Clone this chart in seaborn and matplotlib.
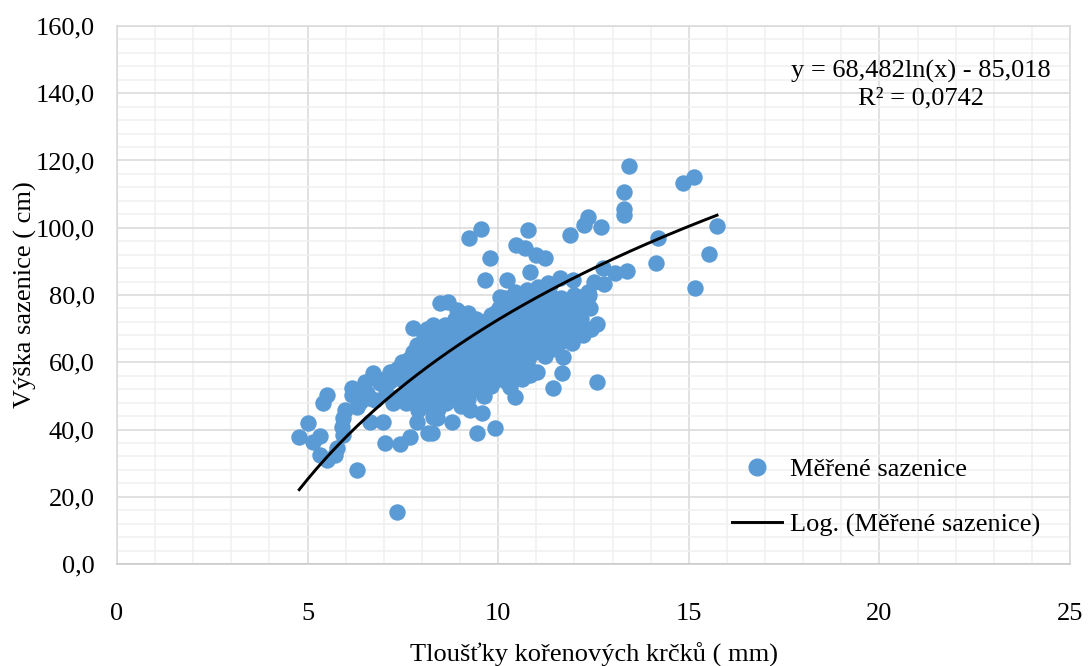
import numpy as np
import pandas as pd
import matplotlib
matplotlib.use("Agg")
import matplotlib.pyplot as plt
from matplotlib.ticker import MultipleLocator, FuncFormatter
from matplotlib.lines import Line2D
import seaborn as sns

# ---------------- data ----------------
thickness_mm = [
    # left / lower edge
    4.78, 5.02, 5.14, 5.33, 5.33, 5.50, 5.72, 5.76, 5.40, 5.50, 5.93, 5.89, 5.93, 5.98,
    6.29, 6.16, 6.16, 6.45, 6.37, 6.72, 6.77, 7.16, 7.47, 7.86, 6.29, 7.35, 7.03, 7.42,
    7.69, 6.98, 6.64, 7.86, 7.90, 8.16, 8.29, 8.26, 8.39, 8.78, 7.37, 7.73, 6.90, 6.55,
    7.33, 7.77,
    # middle lower edge
    9.44, 9.92, 9.57, 9.26, 10.44, 10.30, 10.83, 11.44, 11.67, 11.70, 11.49, 11.10,
    11.88, 12.58, 12.60,
    # upper edge
    9.23, 9.54, 9.78, 9.65, 10.22, 10.48, 10.70, 10.78, 11.00, 11.23, 10.83, 8.47, 8.68,
    8.29, 8.91, 9.21, 9.92, 10.05, 10.48, 10.75, 11.05, 11.31, 11.62, 11.97, 12.50, 12.15,
    12.36, 12.15, 11.75, 12.23, 12.00, 11.93, 12.36, 11.36,
    # right
    13.43, 14.85, 15.14, 13.30, 13.30, 13.30, 12.35, 12.25, 12.70, 11.88, 15.74, 14.19,
    15.53, 14.13, 13.38, 13.06, 12.75, 12.78, 15.15,
    # core
    7.58, 7.62, 7.55, 7.66,
    7.82, 7.78, 7.84, 7.76, 7.81,
    8.02, 7.98, 8.05, 7.97, 8.03, 8.06,
    8.18, 8.23, 8.16, 8.21, 8.25, 8.14,
    8.42, 8.38, 8.44, 8.36, 8.41, 8.45, 8.37,
    8.62, 8.57, 8.64, 8.59, 8.66, 8.55, 8.61,
    8.81, 8.77, 8.84, 8.79, 8.83, 8.76, 8.86,
    9.02, 8.97, 9.04, 8.99, 9.05, 8.96, 9.03, 9.07,
    9.22, 9.17, 9.24, 9.19, 9.25, 9.16, 9.21,
    9.42, 9.37, 9.44, 9.39, 9.45, 9.36, 9.41,
    9.62, 9.57, 9.64, 9.59, 9.65, 9.56, 9.61,
    9.82, 9.77, 9.84, 9.79, 9.85, 9.76, 9.81,
    10.02, 9.97, 10.04, 9.99, 10.05, 9.96, 10.03,
    10.22, 10.17, 10.24, 10.19, 10.25, 10.16, 10.21, 10.18,
    10.42, 10.37, 10.44, 10.39, 10.45, 10.36, 10.41, 10.43,
    10.62, 10.57, 10.64, 10.59, 10.65, 10.56, 10.61,
    10.82, 10.77, 10.84, 10.79, 10.85, 10.76, 10.81, 10.83,
    11.02, 10.97, 11.04, 10.99, 11.05, 10.96, 11.03,
    11.22, 11.17, 11.24, 11.19, 11.25, 11.16,
    11.42, 11.37, 11.44, 11.39, 11.45, 11.36,
    11.62, 11.57, 11.64, 11.59, 11.65,
    11.82, 11.77, 11.84, 11.79,
    12.02, 11.97, 12.04, 11.99,
    12.22, 12.17, 12.24,
    12.42, 12.38, 12.44,
    6.50, 6.60, 6.85, 7.05, 7.15, 7.25, 7.35, 7.45, 7.70, 7.65,
]

height_cm = [
    # left / lower edge
    37.9, 41.9, 36.4, 38.1, 32.4, 31.0, 32.4, 34.5, 47.9, 50.3, 38.4, 40.8, 43.4, 45.8,
    46.8, 52.3, 50.3, 51.7, 48.3, 56.8, 48.8, 57.2, 60.2, 65.1, 28.0, 15.6, 36.1, 35.7,
    37.9, 42.3, 42.3, 42.3, 45.8, 39.0, 43.8, 39.0, 43.4, 42.3, 49.8, 52.7, 53.8, 50.8,
    48.8, 70.2,
    # middle lower edge
    39.0, 40.4, 44.9, 45.8, 49.8, 52.7, 56.2, 52.3, 56.8, 61.7, 67.2, 64.2,
    67.5, 54.2, 71.4,
    # upper edge
    97.0, 99.5, 91.0, 84.5, 84.5, 94.9, 94.0, 99.3, 91.9, 91.0, 86.7, 77.6, 77.9,
    71.1, 75.5, 74.6, 74.6, 79.4, 79.4, 81.5, 82.4, 83.5, 85.0, 84.5, 83.9, 79.4,
    79.4, 77.0, 72.5, 70.2, 67.5, 65.7, 81.0, 83.0,
    # right
    118.4, 113.3, 115.1, 110.5, 105.6, 103.8, 103.3, 100.8, 100.3, 97.8, 100.5, 97.0,
    92.2, 89.5, 87.2, 86.5, 88.0, 83.3, 82.0,
    # core
    48, 53, 57, 61,
    51, 55, 59, 63, 49.5,
    47, 52, 56, 60, 64, 68,
    50, 54, 58, 62, 66, 70,
    46, 49, 53, 57, 61, 65, 69,
    48, 52, 55, 59, 63, 67, 71,
    50, 54, 58, 61, 65, 69, 73,
    47, 51, 55, 59, 63, 67, 71, 74,
    49, 53, 57, 61, 65, 69, 72,
    52, 55, 59, 63, 67, 70, 73,
    50, 54, 58, 62, 65, 68, 72,
    53, 57, 61, 64, 67, 70, 74,
    55, 59, 62, 66, 69, 72, 76,
    54, 58, 61, 65, 68, 71, 75, 79,
    56, 60, 63, 67, 70, 73, 77, 81,
    55, 59, 62, 66, 69, 72, 76,
    58, 61, 65, 68, 71, 74, 78, 81,
    57, 63, 67, 70, 73, 76, 80,
    62, 66, 69, 72, 75, 78,
    64, 68, 71, 74, 77, 80,
    66, 70, 73, 76, 79,
    69, 72, 75, 78,
    71, 74, 77, 80,
    68, 73, 78,
    76, 80, 70,
    54, 49.5, 55, 51, 54.5, 48, 58, 55, 57.5, 50,
]

# logarithmic trendline coefficients (as shown on the chart)
trend_a = 68.482
trend_b = -85.018
equation_text = "y = 68,482ln(x) - 85,018\nR² = 0,0742"

series_label = "Měřené sazenice"
trend_label = "Log. (Měřené sazenice)"
x_label = "Tloušťky kořenových krčků ( mm)"
y_label = "Výška sazenice ( cm)"

# ---------------- plot ----------------
plt.rcParams['font.family'] = ['Liberation Serif', 'DejaVu Serif']
FS = 19
BLUE = "#5B9BD5"

df = pd.DataFrame({"x": thickness_mm, "y": height_cm})

fig = plt.figure(figsize=(10.88, 6.66), dpi=100)
ax = fig.add_axes([117 / 1088, 102 / 666, 953 / 1088, 538 / 666])

sns.scatterplot(data=df, x="x", y="y", ax=ax, color=BLUE, s=140,
                linewidth=0, alpha=1, zorder=3, legend=False)

tx = np.linspace(min(thickness_mm), max(thickness_mm), 200)
trend_df = pd.DataFrame({"x": tx, "y": trend_a * np.log(tx) + trend_b})
sns.lineplot(data=trend_df, x="x", y="y", ax=ax, color="black", lw=2.1,
             zorder=4, legend=False)

ax.set_xlim(0, 25)
ax.set_ylim(0, 160)
ax.xaxis.set_major_locator(MultipleLocator(5))
ax.xaxis.set_minor_locator(MultipleLocator(1))
ax.yaxis.set_major_locator(MultipleLocator(20))
ax.yaxis.set_minor_locator(MultipleLocator(4))
ax.yaxis.set_major_formatter(FuncFormatter(lambda v, p: f"{v:.1f}".replace(".", ",")))
ax.xaxis.set_major_formatter(FuncFormatter(lambda v, p: f"{v:.0f}"))

ax.grid(which="minor", color="#f0f0f0", lw=1.1, zorder=0)
ax.grid(which="major", color="#d9d9d9", lw=1.1, zorder=1)
ax.set_axisbelow(True)
for s in ax.spines.values():
    s.set_color("#d9d9d9")
    s.set_linewidth(1.1)
ax.spines["bottom"].set_color("#c8c8c8")

ax.tick_params(which="both", length=0)
ax.tick_params(axis="x", labelsize=FS, pad=28)
ax.tick_params(axis="y", labelsize=FS, pad=16)

ax.set_xlabel(x_label, fontsize=FS, labelpad=13)
ax.set_ylabel(y_label, fontsize=FS, labelpad=-1)

ax.text(0.844, 0.891, equation_text, transform=ax.transAxes, ha="center",
        va="center", fontsize=FS, linespacing=1.25, zorder=5)

handles = [
    Line2D([], [], marker="o", color=BLUE, linestyle="none", markersize=12),
    Line2D([], [], color="black", lw=2.1),
]
ax.legend(handles, [series_label, trend_label], loc="upper left",
          bbox_to_anchor=(0.645, 0.198), frameon=False, fontsize=FS,
          borderpad=0, borderaxespad=0, handlelength=1.9,
          handletextpad=0.3, labelspacing=1.2)

fig.savefig("out.png", dpi=100)
